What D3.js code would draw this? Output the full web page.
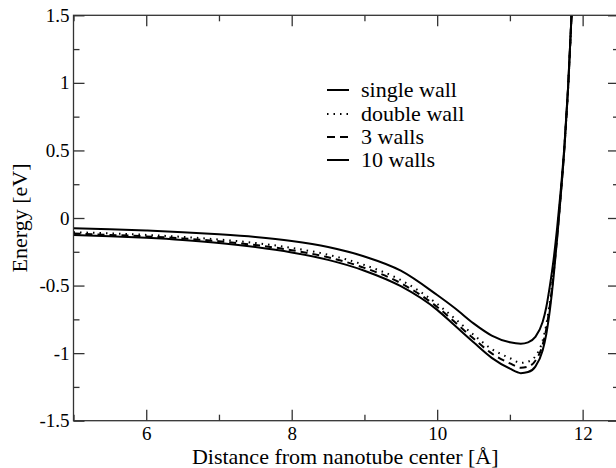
<!DOCTYPE html>
<html>
<head>
<meta charset="utf-8">
<script src="https://cdn.jsdelivr.net/npm/d3@7"></script>
<style>
  body { margin: 0; background: #fff; }
  svg, svg text { font-family: "Times New Roman", "Liberation Serif", Times, "DejaVu Serif", serif !important; }
</style>
</head>
<body>
<div id="chart"></div>
<script>

// distance from nanotube center [Å]
const distance = [5.0, 5.5, 6.0, 6.5, 7.0, 7.5, 8.0, 8.5, 9.0, 9.5, 10.0, 10.25, 10.5, 10.75,
  11.0, 11.15, 11.25, 11.35, 11.45, 11.5, 11.55, 11.6, 11.65, 11.7, 11.75, 11.8, 11.85, 11.9];

// energies [eV]
const singleWall = [-0.075, -0.083, -0.093, -0.105, -0.12, -0.14, -0.17, -0.215, -0.285, -0.39, -0.57, -0.67, -0.78, -0.87,
  -0.92, -0.93, -0.92, -0.88, -0.77, -0.66, -0.50, -0.31, -0.07, 0.21, 0.54, 0.97, 1.53, 2.2];
const doubleWall = [-0.105, -0.114, -0.125, -0.140, -0.159, -0.185, -0.221, -0.272, -0.348, -0.459, -0.636, -0.748, -0.864, -0.969,
  -1.037, -1.072, -1.063, -1.023, -0.907, -0.79, -0.617, -0.395, -0.122, 0.184, 0.527, 0.963, 1.53, 2.2];
const threeWalls = [-0.115, -0.125, -0.136, -0.151, -0.172, -0.2, -0.238, -0.291, -0.369, -0.482, -0.658, -0.774, -0.892, -1.002,
  -1.076, -1.108, -1.10, -1.056, -0.938, -0.82, -0.644, -0.414, -0.134, 0.178, 0.524, 0.962, 1.53, 2.2];
const tenWalls = [-0.125, -0.135, -0.147, -0.163, -0.185, -0.215, -0.255, -0.31, -0.39, -0.505, -0.68, -0.8, -0.92, -1.035,
  -1.115, -1.148, -1.14, -1.1, -0.98, -0.86, -0.68, -0.44, -0.15, 0.17, 0.52, 0.96, 1.53, 2.2];

const seriesNames = ['single wall', 'double wall', '3 walls', '10 walls'];
const seriesValues = [singleWall, doubleWall, threeWalls, tenWalls];
const seriesDash = [null, '1.5,5', '7,5', null];

const xTickValues = [6, 8, 10, 12];
const xTickLabels = ['6', '8', '10', '12'];
const yTickValues = [1.5, 1, 0.5, 0, -0.5, -1, -1.5];
const yTickLabels = ['1.5', '1', '0.5', '0', '-0.5', '-1', '-1.5'];

const width = 616, height = 468;
const plot = { left: 73.5, right: 619, top: 15.3, bottom: 420.7 };
const serif = '"Times New Roman", "Liberation Serif", Times, serif';

const svg = d3.select('#chart')
  .append('svg')
  .attr('width', width)
  .attr('height', height)
  .attr('font-family', serif);

const xScale = d3.scaleLinear().domain([5, 12.5]).range([plot.left, plot.right]);
const yScale = d3.scaleLinear().domain([-1.5, 1.5]).range([plot.bottom, plot.top]);

svg.append('clipPath')
  .attr('id', 'clip')
  .append('rect')
  .attr('x', plot.left).attr('y', plot.top)
  .attr('width', plot.right - plot.left).attr('height', plot.bottom - plot.top);

// curves
const line = d3.line()
  .x(d => xScale(d[0]))
  .y(d => yScale(d[1]))
  .curve(d3.curveMonotoneX);

const curves = svg.append('g').attr('clip-path', 'url(#clip)');
seriesValues.forEach((vals, i) => {
  curves.append('path')
    .attr('d', line(distance.map((x, j) => [x, vals[j]])))
    .attr('fill', 'none')
    .attr('stroke', '#000')
    .attr('stroke-width', 2)
    .attr('stroke-dasharray', seriesDash[i]);
});

// axes, ticks pointing inward
const minorX = [5, 7, 9, 11];
const minorY = [1.25, 0.75, 0.25, -0.25, -0.75, -1.25];

function styleAxis(g) {
  g.attr('font-family', serif);
  g.select('.domain').remove();
  g.selectAll('line').attr('stroke', '#333').attr('stroke-width', 1.3);
  g.selectAll('text')
    .style('font-family', serif)
    .style('font-size', '19px')
    .attr('fill', '#000');
}

svg.append('g')
  .attr('transform', 'translate(0,' + plot.bottom + ')')
  .call(d3.axisBottom(xScale).tickValues(xTickValues)
    .tickFormat((d, i) => xTickLabels[i]).tickSize(-11).tickPadding(6))
  .call(styleAxis);
svg.append('g')
  .attr('transform', 'translate(0,' + plot.bottom + ')')
  .call(d3.axisBottom(xScale).tickValues(minorX).tickFormat('').tickSize(-6))
  .call(styleAxis);
svg.append('g')
  .attr('transform', 'translate(0,' + plot.top + ')')
  .call(d3.axisTop(xScale).tickValues(xTickValues).tickFormat('').tickSize(-11))
  .call(styleAxis);
svg.append('g')
  .attr('transform', 'translate(0,' + plot.top + ')')
  .call(d3.axisTop(xScale).tickValues(minorX).tickFormat('').tickSize(-6))
  .call(styleAxis);

svg.append('g')
  .attr('transform', 'translate(' + plot.left + ',0)')
  .call(d3.axisLeft(yScale).tickValues(yTickValues)
    .tickFormat((d, i) => yTickLabels[i]).tickSize(-11).tickPadding(4))
  .call(styleAxis);
svg.append('g')
  .attr('transform', 'translate(' + plot.left + ',0)')
  .call(d3.axisLeft(yScale).tickValues(minorY).tickFormat('').tickSize(-6))
  .call(styleAxis);
svg.append('g')
  .attr('transform', 'translate(' + plot.right + ',0)')
  .call(d3.axisRight(yScale).tickValues(yTickValues).tickFormat('').tickSize(-11))
  .call(styleAxis);
svg.append('g')
  .attr('transform', 'translate(' + plot.right + ',0)')
  .call(d3.axisRight(yScale).tickValues(minorY).tickFormat('').tickSize(-6))
  .call(styleAxis);

// frame
svg.append('rect')
  .attr('x', plot.left).attr('y', plot.top)
  .attr('width', plot.right - plot.left).attr('height', plot.bottom - plot.top)
  .attr('fill', 'none')
  .attr('stroke', '#333')
  .attr('stroke-width', 1.3);

// axis titles
svg.append('text')
  .attr('x', (plot.left + 619) / 2 - 1)
  .attr('y', 464)
  .attr('text-anchor', 'middle')
  .style('font-family', serif)
  .style('font-size', '22px')
  .text('Distance from nanotube center [Å]');

svg.append('text')
  .attr('transform', 'translate(27,' + (plot.top + plot.bottom) / 2 + ') rotate(-90)')
  .attr('text-anchor', 'middle')
  .style('font-family', serif)
  .style('font-size', '22px')
  .text('Energy [eV]');

// legend
const legendY = [90, 114, 137, 160];
const legend = svg.append('g');
seriesNames.forEach((name, i) => {
  legend.append('line')
    .attr('x1', 327).attr('x2', 349)
    .attr('y1', legendY[i]).attr('y2', legendY[i])
    .attr('stroke', '#000')
    .attr('stroke-width', 2)
    .attr('stroke-dasharray', i === 2 ? '8,5' : seriesDash[i]);
  legend.append('text')
    .attr('x', 361)
    .attr('y', legendY[i] + 7)
    .style('font-family', serif)
    .style('font-size', '22px')
    .text(name);
});

</script>
</body>
</html>
